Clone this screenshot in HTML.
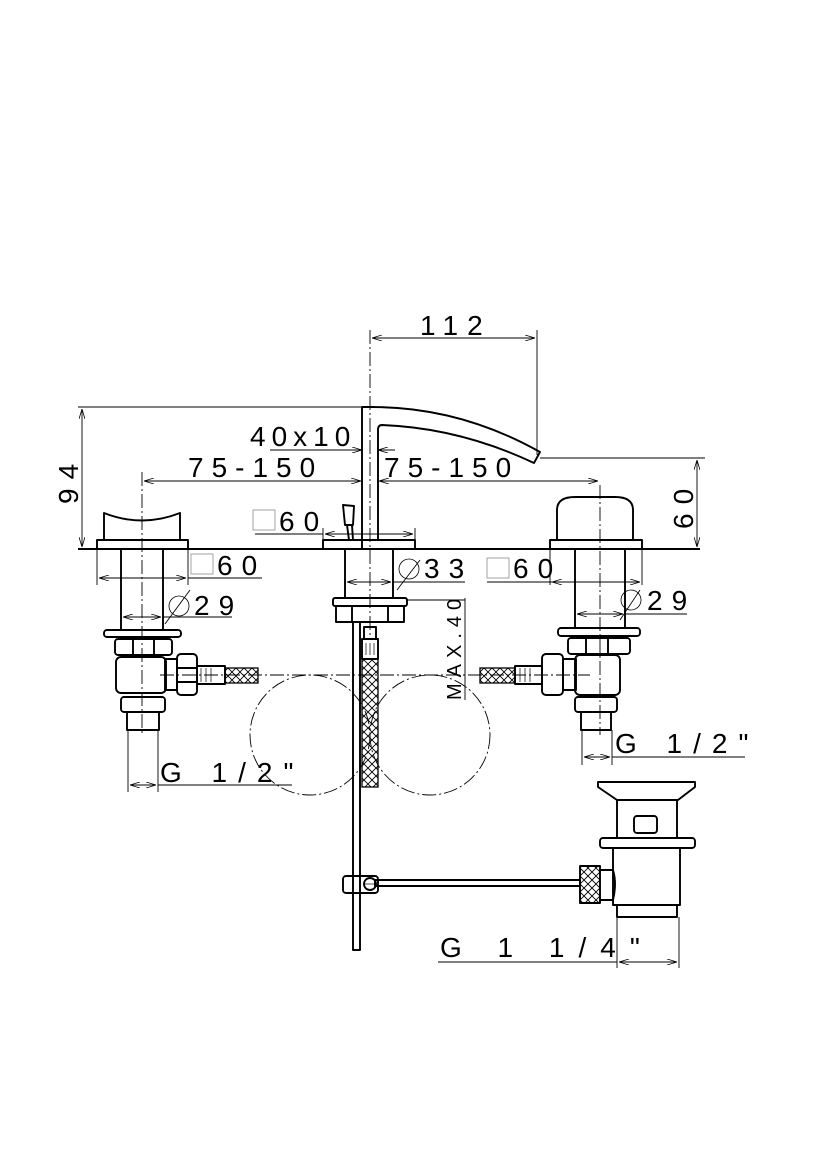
<!DOCTYPE html>
<html><head><meta charset="utf-8"><style>
html,body{margin:0;padding:0;background:#fff}
svg{display:block}
text{font-family:"Liberation Sans",sans-serif;fill:#000}
</style></head><body>
<svg width="827" height="1169" viewBox="0 0 827 1169" xmlns="http://www.w3.org/2000/svg">
<defs>
<marker id="a" markerWidth="10" markerHeight="6" refX="10" refY="3" orient="auto-start-reverse" markerUnits="userSpaceOnUse"><path d="M0,0 L10,3 L0,6" fill="none" stroke="#000" stroke-width="0.8"/></marker>
<pattern id="h" width="8" height="8" patternUnits="userSpaceOnUse"><path d="M0,0 L8,8 M8,0 L0,8" stroke="#000" stroke-width="0.9"/></pattern>
</defs>
<g fill="none" stroke="#000">
<line x1="78" y1="549" x2="700" y2="549" stroke-width="2"/>
<g stroke-width="0.9" stroke-dasharray="14,3,2,3">
<line x1="142" y1="472" x2="142" y2="735"/>
<line x1="370" y1="330" x2="370" y2="640"/>
<line x1="600" y1="485" x2="600" y2="735"/>
<line x1="160" y1="675" x2="590" y2="675"/>
<circle cx="310" cy="735" r="60"/>
<circle cx="430" cy="735" r="60"/>
</g>
<g stroke-width="0.9">
<line x1="78" y1="407" x2="362" y2="407"/>
<line x1="82" y1="409" x2="82" y2="547" marker-start="url(#a)" marker-end="url(#a)"/>
<line x1="537" y1="330" x2="537" y2="455"/>
<line x1="372" y1="338" x2="535" y2="338" marker-start="url(#a)" marker-end="url(#a)"/>
<line x1="540" y1="458" x2="705" y2="458"/>
<line x1="697" y1="460" x2="697" y2="547" marker-start="url(#a)" marker-end="url(#a)"/>
<line x1="270" y1="450" x2="362" y2="450" marker-end="url(#a)"/>
<line x1="378" y1="450" x2="395" y2="450" marker-start="url(#a)"/>
<line x1="144" y1="481" x2="361" y2="481" marker-start="url(#a)" marker-end="url(#a)"/>
<line x1="379" y1="481" x2="598" y2="481" marker-start="url(#a)" marker-end="url(#a)"/>
<line x1="323" y1="528" x2="323" y2="540"/><line x1="415" y1="528" x2="415" y2="540"/>
<line x1="255" y1="534" x2="323" y2="534"/>
<line x1="325" y1="534" x2="413" y2="534" marker-start="url(#a)" marker-end="url(#a)"/>
<line x1="97" y1="549" x2="97" y2="585"/><line x1="188" y1="549" x2="188" y2="585"/>
<line x1="99" y1="578" x2="186" y2="578" marker-start="url(#a)" marker-end="url(#a)"/>
<line x1="188" y1="578" x2="262" y2="578"/>
<line x1="123" y1="617" x2="161" y2="617" marker-start="url(#a)" marker-end="url(#a)"/>
<line x1="163" y1="617" x2="232" y2="617"/>
<line x1="165" y1="624" x2="190" y2="590"/>
<line x1="347" y1="582" x2="391" y2="582" marker-start="url(#a)" marker-end="url(#a)"/>
<line x1="393" y1="582" x2="465" y2="582"/>
<line x1="397" y1="590" x2="420" y2="560"/>
<line x1="407" y1="600" x2="465" y2="600"/>
<line x1="465" y1="598" x2="465" y2="700"/>
<line x1="550" y1="549" x2="550" y2="585"/><line x1="642" y1="549" x2="642" y2="585"/>
<line x1="552" y1="582" x2="640" y2="582" marker-start="url(#a)" marker-end="url(#a)"/>
<line x1="487" y1="582" x2="552" y2="582"/>
<line x1="577" y1="614" x2="623" y2="614" marker-start="url(#a)" marker-end="url(#a)"/>
<line x1="625" y1="614" x2="687" y2="614"/>
<line x1="620" y1="620" x2="640" y2="590"/>
<line x1="128" y1="730" x2="128" y2="792"/><line x1="158" y1="730" x2="158" y2="792"/>
<line x1="130" y1="785" x2="156" y2="785" marker-start="url(#a)" marker-end="url(#a)"/>
<line x1="158" y1="785" x2="292" y2="785"/>
<line x1="582" y1="730" x2="582" y2="765"/><line x1="612" y1="730" x2="612" y2="765"/>
<line x1="584" y1="757" x2="610" y2="757" marker-start="url(#a)" marker-end="url(#a)"/>
<line x1="612" y1="757" x2="745" y2="757"/>
<line x1="617" y1="917" x2="617" y2="968"/><line x1="679" y1="917" x2="679" y2="968"/>
<line x1="438" y1="962" x2="617" y2="962"/>
<line x1="619" y1="962" x2="677" y2="962" marker-start="url(#a)" marker-end="url(#a)"/>
</g>
<g stroke="#999" stroke-width="0.9">
<rect x="253" y="510" width="22" height="20"/>
<rect x="191" y="554" width="22" height="20"/>
<rect x="487" y="558" width="22" height="20"/>
</g>
<g stroke-width="0.8">
<circle cx="179" cy="606" r="10"/>
<circle cx="409" cy="569" r="10"/>
<circle cx="631" cy="600" r="10"/>
</g>
<g stroke-width="1.9" stroke-linejoin="round">
<path d="M362,549 L362,407 L372,407 Q460,407 540,452 L534,463 Q460,428 382,425 Q378,425 378,430 L378,540"/>
<rect x="323" y="540" width="92" height="9"/>
<path d="M343,505 L354,506 L353,525 L345,525 Z"/>
<line x1="347" y1="525" x2="349" y2="540"/><line x1="352" y1="525" x2="353" y2="540"/>
<rect x="345" y="549" width="48" height="49"/>
<rect x="333" y="598" width="74" height="8" rx="2"/>
<path d="M336,606 L404,606 L404,622 L336,622 Z"/>
<line x1="352" y1="606" x2="352" y2="622"/><line x1="388" y1="606" x2="388" y2="622"/>
<rect x="353" y="622" width="7" height="328"/>
<rect x="364" y="627" width="12" height="12"/>
<rect x="362" y="639" width="16" height="20"/>
<path d="M104,540 L104,513 Q142,528 180,513 L180,540"/>
<rect x="97" y="540" width="91" height="9"/>
<rect x="121" y="549" width="42" height="81"/>
<rect x="104" y="630" width="77" height="7" rx="3"/>
<rect x="115" y="639" width="57" height="16" rx="3"/>
<line x1="133" y1="639" x2="133" y2="655"/><line x1="154" y1="639" x2="154" y2="655"/>
<rect x="116" y="657" width="50" height="36" rx="5"/>
<rect x="165" y="659" width="12" height="31"/>
<rect x="177" y="654" width="20" height="41" rx="4"/>
<line x1="177" y1="668" x2="197" y2="668"/><line x1="177" y1="682" x2="197" y2="682"/>
<rect x="197" y="666" width="28" height="18"/>
<rect x="121" y="697" width="44" height="15" rx="3"/>
<rect x="127" y="712" width="32" height="18"/>
<path d="M557,540 L557,510 Q557,497 575,497 L615,497 Q633,497 633,510 L633,540"/>
<rect x="550" y="540" width="92" height="9"/>
<rect x="575" y="549" width="50" height="79"/>
<rect x="558" y="628" width="82" height="8" rx="3"/>
<rect x="568" y="638" width="62" height="16" rx="3"/>
<line x1="586" y1="638" x2="586" y2="654"/><line x1="608" y1="638" x2="608" y2="654"/>
<rect x="575" y="655" width="45" height="40" rx="5"/>
<rect x="563" y="659" width="13" height="31"/>
<rect x="542" y="654" width="21" height="41" rx="4"/>
<rect x="515" y="666" width="27" height="18"/>
<rect x="575" y="697" width="42" height="15" rx="3"/>
<rect x="581" y="712" width="30" height="18"/>
<path d="M598,782 L695,782 L695,787 L678,800 L617,800 L598,787 Z"/>
<rect x="617" y="800" width="60" height="38"/>
<rect x="634" y="816" width="23" height="17" rx="3"/>
<rect x="600" y="838" width="95" height="10" rx="3"/>
<path d="M613,848 L680,848 L680,905 L613,905 Z"/>
<path d="M600,870 L613,870 Q617,883 613,900 L600,900"/>
<rect x="580" y="866" width="20" height="37" fill="url(#h)"/>
<rect x="617" y="905" width="60" height="12"/>
<rect x="375" y="880" width="205" height="6"/>
<rect x="343" y="876" width="35" height="17" rx="3"/>
<circle cx="370" cy="884" r="6"/>
</g>
<g stroke-width="1.3">
<rect x="362" y="659" width="16" height="128" fill="url(#h)"/>
<rect x="225" y="668" width="33" height="15" fill="url(#h)"/>
<rect x="480" y="668" width="35" height="15" fill="url(#h)"/>
</g>
<g stroke-width="0.7">
<line x1="366" y1="643" x2="366" y2="655"/><line x1="370" y1="643" x2="370" y2="655"/><line x1="374" y1="643" x2="374" y2="655"/>
<line x1="201" y1="668" x2="201" y2="682"/><line x1="206" y1="668" x2="206" y2="682"/><line x1="211" y1="668" x2="211" y2="682"/>
<line x1="530" y1="668" x2="530" y2="682"/><line x1="525" y1="668" x2="525" y2="682"/><line x1="520" y1="668" x2="520" y2="682"/>
<line x1="365" y1="884" x2="375" y2="884"/>
</g>
</g>
<g font-size="28" letter-spacing="9">
<text x="420" y="335">112</text>
<text x="250" y="446" letter-spacing="6">40x10</text>
<text x="188" y="477" letter-spacing="8">75-150</text>
<text x="384" y="477" letter-spacing="8">75-150</text>
<text x="279" y="531">60</text>
<text x="217" y="575">60</text>
<text x="424" y="578">33</text>
<text x="513" y="578">60</text>
<text x="194" y="615">29</text>
<text x="647" y="610">29</text>
<text x="160" y="782" letter-spacing="11">G 1/2"</text>
<text x="615" y="753" letter-spacing="11">G 1/2"</text>
<text x="440" y="957" letter-spacing="14">G 1 1/4"</text>
<text transform="translate(78,504) rotate(-90)">94</text>
<text transform="translate(693,529) rotate(-90)">60</text>
<text transform="translate(461,700) rotate(-90)" font-size="20" letter-spacing="6">MAX.40</text>
</g>
</svg>
</body></html>
